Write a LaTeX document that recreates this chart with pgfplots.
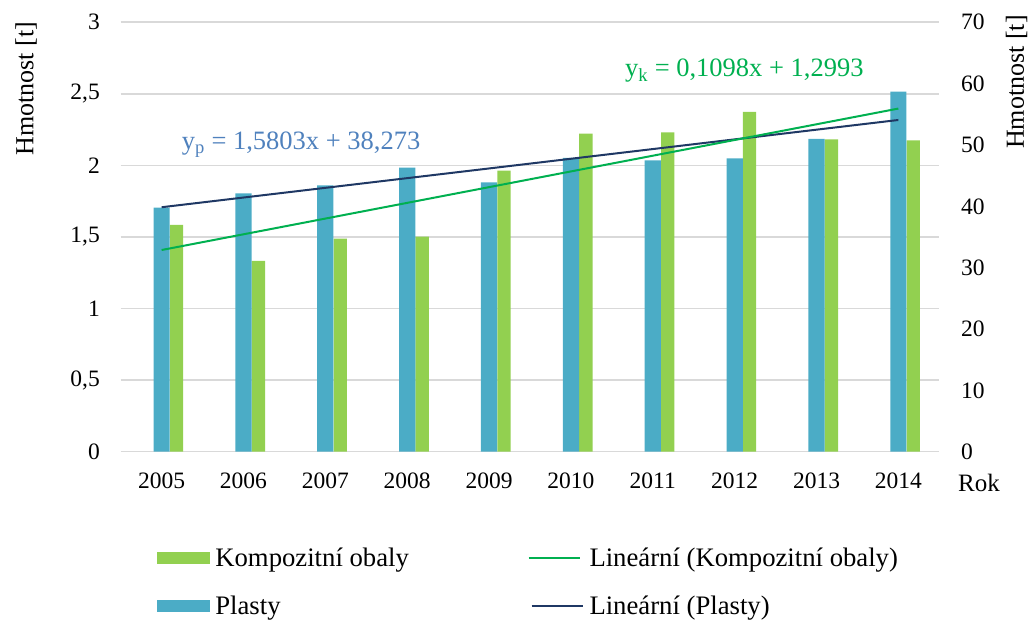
\documentclass[border=0pt]{standalone}
\usepackage{fontspec}
\setmainfont{Liberation Serif}
\usepackage{pgfplots}
\usepackage{pgfplotstable}
\pgfplotsset{compat=1.18}
\definecolor{plastbar}{HTML}{4BACC6}
\definecolor{kompbar}{HTML}{92D050}
\definecolor{kompline}{HTML}{00B050}
\definecolor{plastline}{HTML}{1F3864}
\definecolor{eqblue}{HTML}{4F81BD}
\definecolor{gridgray}{HTML}{D9D9D9}

\pgfplotstableread{
x komp plast
1 1.584 39.8
2 1.333 42.1
3 1.489 43.4
4 1.503 46.3
5 1.964 43.9
6 2.222 47.9
7 2.231 47.5
8 2.375 47.8
9 2.182 51.0
10 2.175 58.7
}\datatable

\pgfplotstableread{
x komp plast
1 1.4091 39.853
10 2.3973 54.076
}\trendtable

\pgfplotsset{base/.style={
  scale only axis, width=818.6pt, height=429.4pt,
  at={(120.7pt,169.3pt)}, anchor=south west,
  xmin=0.5, xmax=10.5,
  axis line style={draw=none}, tick style={draw=none},
  /pgf/number format/assume math mode=true,
  ticklabel style={font=\fontsize{23.5}{28}\selectfont, inner sep=0pt},
}}

\begin{document}
\begin{tikzpicture}
\useasboundingbox (0,0) rectangle (1034pt,621pt);

% primary axis (left) - Kompozitni obaly bars
\begin{axis}[base,
  ymin=0, ymax=3,
  ytick={0,0.5,1,1.5,2,2.5,3},
  yticklabel style={/pgf/number format/use comma, /pgf/number format/fixed},
  yticklabel shift=20.7pt,
  xtick={1,2,3,4,5,6,7,8,9,10},
  xticklabels={2005,2006,2007,2008,2009,2010,2011,2012,2013,2014},
  xticklabel shift=20.5pt,
  ymajorgrids, grid style={gridgray, line width=1.6pt},
  clip=false,
]
\addplot[ybar, bar width=0.163, bar shift=0.182, fill=kompbar, draw=none] table[x=x,y=komp]{\datatable};
\node[anchor=base west, inner sep=0pt, font=\fontsize{25}{30}\selectfont] at ([xshift=18.7pt,yshift=-40pt]rel axis cs:1,0) {Rok};
\node[rotate=90, anchor=east, inner sep=0pt, font=\fontsize{26}{31}\selectfont] at ([xshift=-94.7pt,yshift=0.5pt]rel axis cs:0,1) {Hmotnost [t]};
\node[rotate=90, anchor=east, inner sep=0pt, font=\fontsize{26}{31}\selectfont] at ([xshift=77.2pt,yshift=7.3pt]rel axis cs:1,1) {Hmotnost [t]};
\end{axis}

% secondary axis (right) - Plasty bars
\begin{axis}[base,
  ymin=0, ymax=70,
  axis y line*=right,
  hide x axis,
  ytick={0,10,20,30,40,50,60,70},
  yticklabel shift=21.7pt,
  clip=false,
]
\addplot[ybar, bar width=0.198, bar shift=0, fill=plastbar, draw=none] table[x=x,y=plast]{\datatable};
\addplot[plastline, line width=2pt] table[x=x,y=plast]{\trendtable};
\end{axis}

% overlay axis (left scale) - trend of Kompozitni obaly + legend
\begin{axis}[base,
  ymin=0, ymax=3,
  hide axis,
  clip=false,
  legend columns=2,
  legend cell align=left,
  legend style={draw=none, fill=none, inner sep=0pt, outer sep=0pt,
    at={(axis description cs:0.0443,-0.2133)}, anchor=north west,
    font=\fontsize{26.7}{32}\selectfont,
    nodes={inner xsep=3pt, inner ysep=0pt, text height=23.4pt, text depth=24.6pt},
    /tikz/every odd column/.append style={column sep=3pt},
    /tikz/every even column/.append style={column sep=116pt},
  },
]
\addlegendimage{legend image code/.code={\fill[kompbar] (0pt,3.7pt) rectangle (52pt,14.7pt);}}
\addlegendentry{Kompozitní obaly}
\addlegendimage{legend image code/.code={\draw[kompline, line width=1.6pt] (0pt,9.2pt) -- (51pt,9.2pt);}}
\addlegendentry{Lineární (Kompozitní obaly)}
\addlegendimage{legend image code/.code={\fill[plastbar] (0pt,3.7pt) rectangle (52pt,14.7pt);}}
\addlegendentry{Plasty}
\addlegendimage{legend image code/.code={\draw[plastline, line width=1.6pt] (3pt,9.2pt) -- (54pt,9.2pt);}}
\addlegendentry{Lineární (Plasty)}
\addplot[kompline, line width=2pt, forget plot] table[x=x,y=komp]{\trendtable};
\node[anchor=base west, inner sep=0pt, text=eqblue, font=\fontsize{26.5}{32}\selectfont] at (rel axis cs:0.0745,0.7026) {y\textsubscript{p} = 1,5803x + 38,273};
\node[anchor=base west, inner sep=0pt, text=kompline, font=\fontsize{26.5}{32}\selectfont] at (rel axis cs:0.616,0.8733) {y\textsubscript{k} = 0,1098x + 1,2993};
\end{axis}
\end{tikzpicture}
\end{document}
